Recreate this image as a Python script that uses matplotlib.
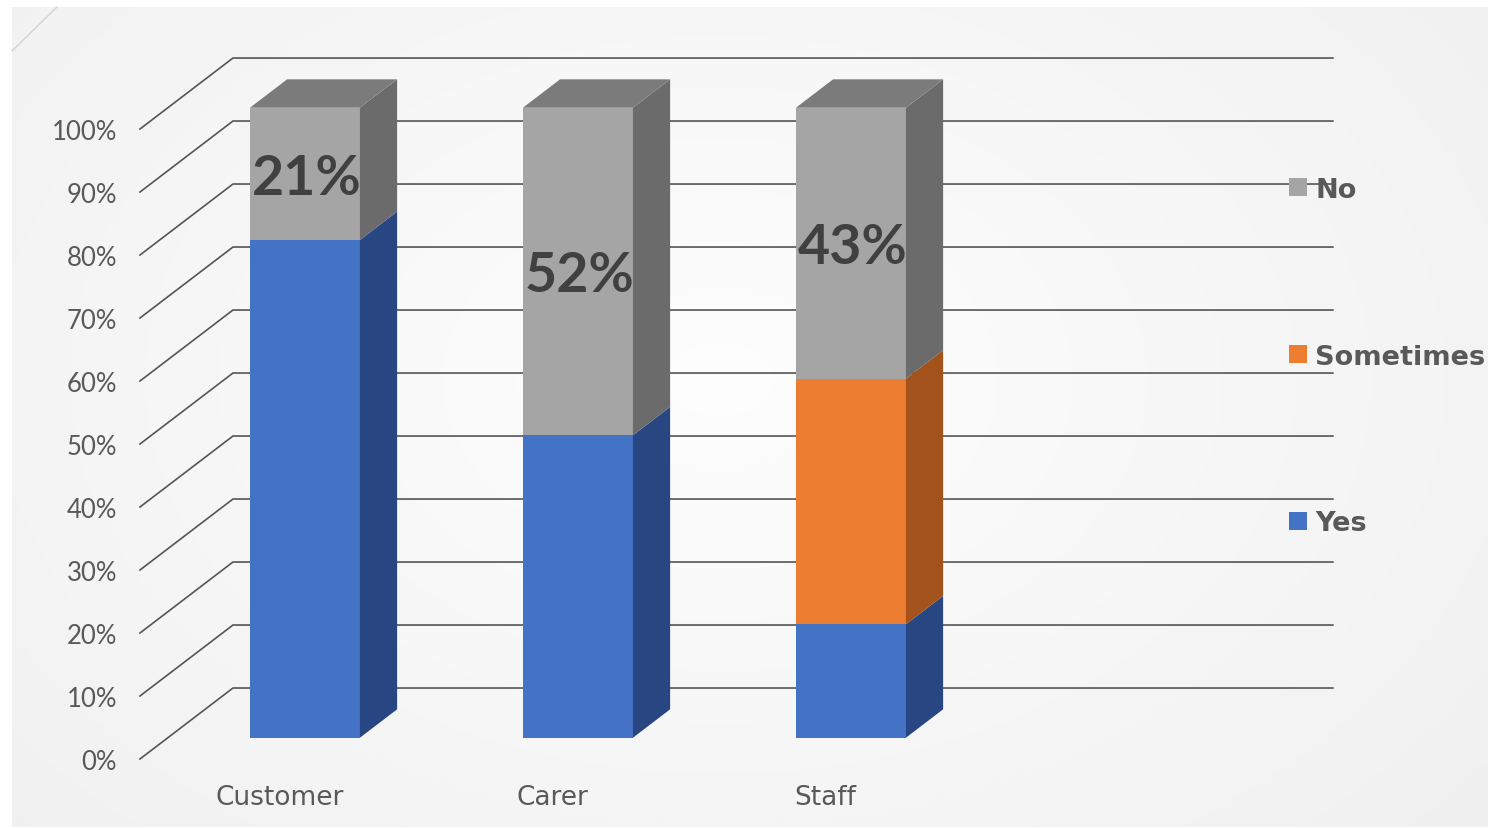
import numpy as np
import matplotlib
matplotlib.use("Agg")
import matplotlib.pyplot as plt
from matplotlib.patches import Polygon, Rectangle

# ---- data -------------------------------------------------------------
categories = ["Customer", "Carer", "Staff"]
series_names = ["Yes", "Sometimes", "No"]
yes = [79, 48, 18]
sometimes = [0, 0, 39]
no = [21, 52, 43]
tick_values = list(range(0, 101, 10))

# ---- styling ----------------------------------------------------------
front_colors = {"Yes": "#4472C4", "Sometimes": "#ED7D31", "No": "#A5A5A5"}
side_colors = {"Yes": "#284682", "Sometimes": "#A3521C", "No": "#6B6B6B"}
top_colors = {"Yes": "#3A62A8", "Sometimes": "#C86A28", "No": "#7B7B7B"}
text_gray = "#595959"
grid_color = "#555555"

W, H = 1488, 829
fig = plt.figure(figsize=(W / 100, H / 100), dpi=100)

# soft panel background with a light radial shading
bg = fig.add_axes([0, 0, 1, 1])
bg.set_axis_off()
yy, xx = np.mgrid[0:H, 0:W]
r = np.sqrt(((xx - 720) / 950.0) ** 2 + ((yy - 380) / 650.0) ** 2)
val = np.clip(0.995 - 0.05 * r, 0.93, 1.0)
panel = np.ones((H, W))
mask = (xx >= 12) & (yy >= 8) & (yy <= 827)
panel[mask] = val[mask]
bg.imshow(np.dstack([panel] * 3), extent=[0, W, H, 0], aspect="auto")
bg.set_xlim(0, W)
bg.set_ylim(H, 0)
bg.plot([12, 57], [52, 8], color="#d2d2d2", lw=1)

# ---- 3D-look column chart in an oblique projection --------------------
ax = fig.add_axes([0, 0, 1, 1])
ax.patch.set_alpha(0)
ax.set_axis_off()
ax.set_xlim(-1.0147, 4.4359)
ax.set_ylim(-10.95, 120.64)

DX, DY = 0.3407, 11.27          # full-depth offset (category units, percent)
x_left, x_right = -0.502, 3.527  # floor extent in category units
d_front, d_back = 0.3, 0.7       # bar depth range
hw = 0.2015                      # half bar width


def P(x, v, d):
    return (x + d * DX, v + d * DY)


# side wall and back wall gridlines
for v in tick_values:
    a, b = P(x_left, v, 0), P(x_left, v, 1)
    c = P(x_right, v, 1)
    ax.plot([a[0], b[0], c[0]], [a[1], b[1], c[1]], color=grid_color,
            lw=1.2, solid_joinstyle="miter", zorder=1)
    ax.text(x_left - 0.084, v - 0.45, f"{v}%", ha="right", va="center",
            fontsize=18.5, color=text_gray, family=["Lato", "DejaVu Sans"])

values = {"Yes": yes, "Sometimes": sometimes, "No": no}
for i, cat in enumerate(categories):
    bottom = 0
    last = None
    for name in series_names:
        v = values[name][i]
        if v == 0:
            continue
        top = bottom + v
        front = [P(i - hw, bottom, d_front), P(i + hw, bottom, d_front),
                 P(i + hw, top, d_front), P(i - hw, top, d_front)]
        side = [P(i + hw, bottom, d_front), P(i + hw, bottom, d_back),
                P(i + hw, top, d_back), P(i + hw, top, d_front)]
        ax.add_patch(Polygon(front, closed=True, fc=front_colors[name],
                             ec="none", zorder=3))
        ax.add_patch(Polygon(side, closed=True, fc=side_colors[name],
                             ec="none", zorder=3))
        if name == "No":
            cx, cy = P(i, bottom + v / 2, d_front)
            ax.text(cx + 0.005, cy - 0.6, f"{v}%", ha="center", va="center",
                    fontsize=40, fontweight="bold", color="#404040",
                    family=["Lato", "DejaVu Sans"], zorder=5)
        bottom = top
        last = name
    lid = [P(i - hw, bottom, d_front), P(i + hw, bottom, d_front),
           P(i + hw, bottom, d_back), P(i - hw, bottom, d_back)]
    ax.add_patch(Polygon(lid, closed=True, fc=top_colors[last], ec="none",
                         zorder=3))
    ax.text(i + 0.01, -6.1, cat, ha="center", va="center", fontsize=19,
            color=text_gray, family="DejaVu Sans")

# ---- legend (top entry = top stack segment), evenly spaced ------------
legend_x = 1289 / W
legend_rows = [188, 355, 522]   # row centres, pixels from the top
sq_w, sq_h = 18 / W, 18 / H
for name, row in zip(series_names[::-1], legend_rows):
    yc = 1 - row / H
    fig.patches.append(Rectangle((legend_x, yc - sq_h / 2), sq_w, sq_h,
                                 transform=fig.transFigure,
                                 fc=front_colors[name], ec="none", zorder=6))
    fig.text(legend_x + 26 / W, yc - 2.5 / H, name, ha="left", va="center",
             fontsize=19.5, fontweight="bold", color=text_gray,
             family="DejaVu Sans", zorder=6)

fig.savefig("out.png", dpi=100)
